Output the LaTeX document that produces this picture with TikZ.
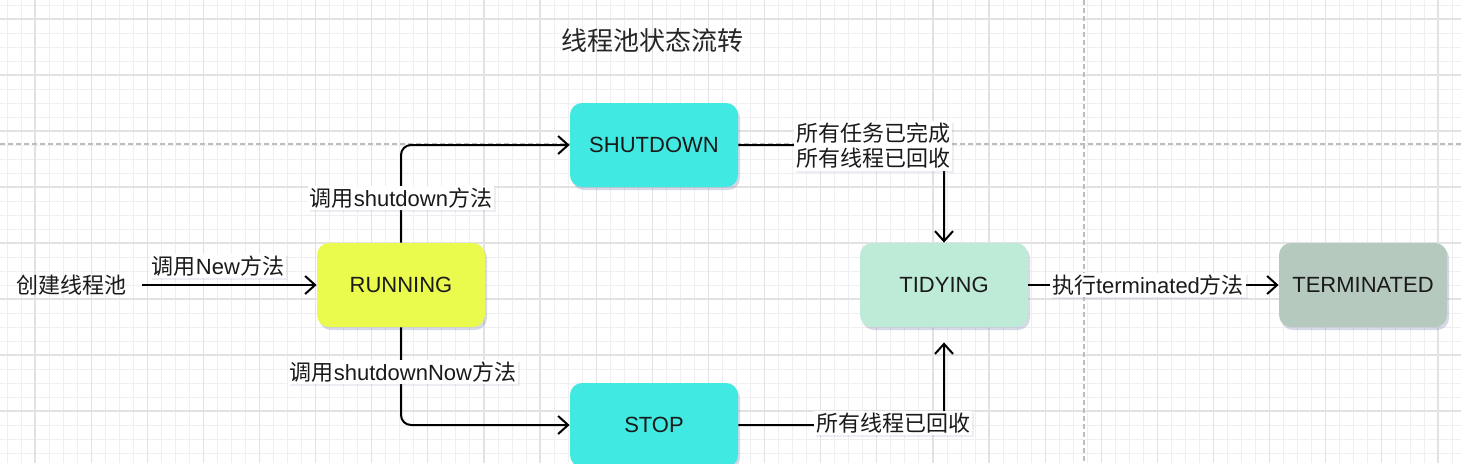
\documentclass[tikz,border=0pt]{standalone}
\usepackage{fontspec}
\setmainfont{Liberation Sans}
\newfontfamily\cjk{Noto Sans CJK SC}
\usetikzlibrary{arrows.meta,shadows}
\definecolor{cyanbox}{HTML}{40E9E1}
\definecolor{runbox}{HTML}{EBFB4E}
\definecolor{tidybox}{HTML}{BEEBD7}
\definecolor{termbox}{HTML}{B5C9BE}
\definecolor{minorc}{HTML}{EFEFEF}
\definecolor{majorc}{HTML}{E2E2E2}
\definecolor{dashc}{HTML}{BDBDBD}
\definecolor{shadowc}{HTML}{8C93B8}
\definecolor{txt}{HTML}{1A1A1A}
\begin{document}
\begin{tikzpicture}[x=0.5pt,y=-0.5pt,
  minorgrid/.style={draw=minorc,line width=0.5pt},
  majorgrid/.style={draw=majorc,line width=0.6pt},
  pagebreak/.style={draw=dashc,line width=0.6pt,dash pattern=on 2.5pt off 1.5pt},
  state/.style={rounded corners=6pt,minimum width=84pt,minimum height=42pt,inner sep=0pt,
    font=\fontsize{11}{13}\selectfont,text=txt,
    drop shadow={shadow xshift=1pt,shadow yshift=-1.5pt,opacity=0.35,fill=shadowc}},
  lbl/.style={fill=white,inner sep=1pt,text=txt,font=\fontsize{11}{13}\selectfont,
    drop shadow={shadow xshift=0.8pt,shadow yshift=-1pt,opacity=0.15,fill=shadowc}},
  arr/.style={draw=black,line width=1pt,-{Straight Barb[length=5pt,width=9pt,line width=1pt]},rounded corners=5pt}
]
\useasboundingbox (0,0) rectangle (1461,463);
\fill[white] (0,0) rectangle (1461,463);
% grid
\foreach \i in {0,...,104} \draw[minorgrid] ({7+14.03*\i},0) -- ++(0,463);
\foreach \i in {0,...,32} \draw[minorgrid] (0,{5+14*\i}) -- ++(1461,0);
\foreach \k in {0,...,25} \draw[majorgrid] ({35+56.12*\k},0) -- ++(0,463);
\foreach \k in {0,...,7} \draw[majorgrid] (0,{19+56*\k}) -- ++(1461,0);
% page break lines
\draw[pagebreak] (0,144) -- (1461,144);
\draw[pagebreak] (1084,0) -- (1084,463);

% title
\node[text=black!85,font=\fontsize{13}{15}\selectfont\cjk] (title) at (652,41) {线程池状态流转};

% states
\node[state,fill=runbox] (run) at (401,285) {RUNNING};
\node[state,fill=cyanbox] (shut) at (654,145) {SHUTDOWN};
\node[state,fill=cyanbox] (stop) at (654,425) {STOP};
\node[state,fill=tidybox] (tidy) at (944,285) {TIDYING};
\node[state,fill=termbox] (term) at (1363,285) {TERMINATED};

% start text
\node[text=txt,font=\fontsize{11}{13}\selectfont\cjk] (create) at (72,285) {创建线程池};
\coordinate (cstart) at (142,285);

% edges
\draw[arr] (cstart) -- (run.west);
\draw[arr] (run.north) |- (shut.west);
\draw[arr] (run.south) |- (stop.west);
\draw[arr] (shut.east) -| (tidy.north);
\draw[arr,shorten >=7.5pt] (stop.east) -| (tidy.south);
\draw[arr] (tidy.east) -- (term.west);

% edge labels
\node[lbl] (l1) at (218,266) {{\cjk 调用}New{\cjk 方法}};
\node[lbl] (l2) at (401,198) {{\cjk 调用}shutdown{\cjk 方法}};
\node[lbl] (l3) at (403,372) {{\cjk 调用}shutdownNow{\cjk 方法}};
\node[lbl,align=center,font=\fontsize{11}{12.5}\selectfont\cjk] (l4) at (873,146) {所有任务已完成\\所有线程已回收};
\node[lbl,font=\fontsize{11}{13}\selectfont\cjk] (l5) at (893,423) {所有线程已回收};
\node[lbl] (l6) at (1148,285) {{\cjk 执行}terminated{\cjk 方法}};
\end{tikzpicture}
\end{document}
